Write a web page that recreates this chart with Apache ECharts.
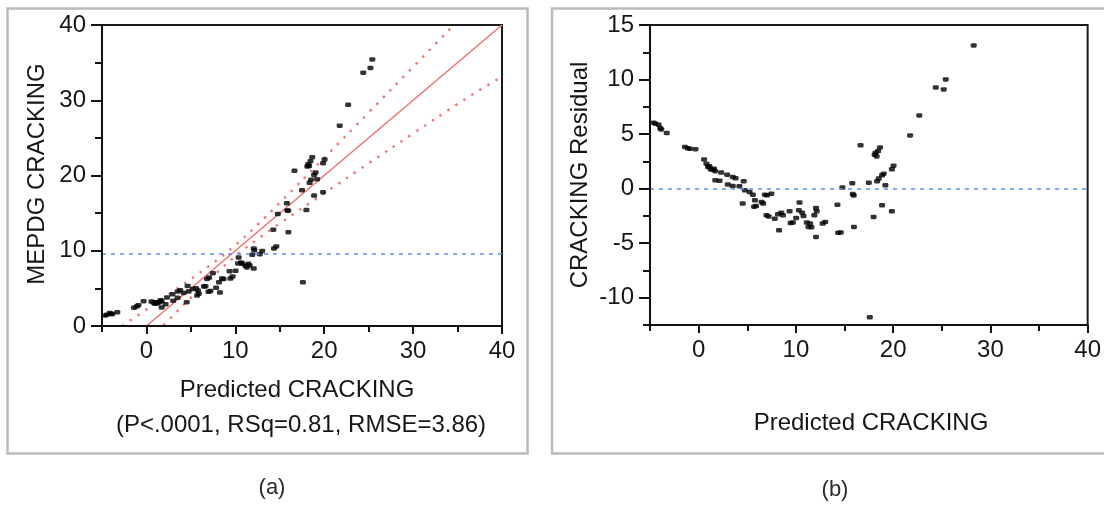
<!DOCTYPE html>
<html><head><meta charset="utf-8">
<script src="https://cdn.jsdelivr.net/npm/echarts@6.0.0/dist/echarts.min.js"></script>
<style>html,body{margin:0;padding:0;background:#fff;}#c{width:1104px;height:506px;}</style>
</head><body><div id="c"></div>
<script>
// ---- data ----
const predicted = [-4.63,-4.45,-4.12,-3.95,-3.85,-3.28,-1.41,-1.10,-0.90,-0.32,0.56,0.80,0.97,1.10,1.24,1.45,1.58,1.71,2.32,1.71,2.15,2.93,3.51,3.80,3.00,3.51,4.63,4.19,4.75,5.24,5.58,4.53,5.70,5.90,5.79,6.47,6.64,6.81,7.04,7.48,6.98,7.20,7.83,8.16,8.50,8.67,8.27,9.35,9.69,9.45,10.37,10.30,10.64,10.78,10.03,11.12,11.29,11.46,11.60,12.07,12.14,11.90,12.07,12.75,13.02,14.27,14.78,14.61,14.35,15.80,15.85,15.95,15.97,16.65,17.50,17.60,17.99,18.10,18.20,18.30,18.45,18.65,18.35,18.52,18.86,19.03,19.20,18.86,19.87,20.04,19.87,21.74,22.69,24.39,25.20,25.41,28.28];
const residual = [6.04,5.95,5.86,5.55,5.43,5.10,3.82,3.70,3.66,3.62,2.68,2.29,1.98,2.05,1.77,1.72,1.83,1.60,1.47,0.76,0.73,1.28,1.07,0.95,0.37,0.24,0.67,0.21,-0.15,-0.31,-0.56,-1.37,-1.65,-1.60,-1.07,-1.22,-1.37,-0.55,-0.61,-0.46,-2.44,-2.55,-2.75,-2.35,-2.20,-2.44,-3.82,-2.08,-3.11,-3.15,-1.28,-1.98,-2.20,-2.50,-2.69,-3.11,-3.51,-3.20,-3.55,-1.77,-2.08,-2.44,-4.43,-3.20,-3.05,-1.47,0.10,-4.03,-4.05,0.50,-0.50,-0.62,-3.51,3.97,0.55,-11.80,-2.59,3.10,3.30,2.95,3.45,3.78,0.67,0.92,1.22,1.37,0.31,-1.53,1.77,2.10,-2.08,4.88,6.71,9.28,9.09,10.01,13.13];
const mepdg = [1.41,1.50,1.74,1.60,1.58,1.82,2.41,2.60,2.76,3.30,3.24,3.09,2.95,3.15,3.01,3.17,3.41,3.31,3.79,2.47,2.88,4.21,4.58,4.75,3.37,3.75,5.30,4.40,4.60,4.93,5.02,3.16,4.05,4.30,4.72,5.25,5.27,6.26,6.43,7.02,4.54,4.65,5.08,5.81,6.30,6.23,4.45,7.27,6.58,6.30,9.09,8.32,8.44,8.28,7.34,8.01,7.78,8.26,8.05,10.30,10.06,9.46,7.64,9.55,9.97,12.80,14.88,10.58,10.30,16.30,15.35,15.33,12.46,20.62,18.05,5.80,15.40,21.20,21.50,21.25,21.90,22.43,19.02,19.44,20.08,20.40,19.51,17.33,21.64,22.14,17.79,26.62,29.40,33.67,34.29,35.42,41.41];
const meanMEPDG = 9.6;
const residualZero = 0;
const fitX = [0, 40];
const fitY = [0, 40];
const upperCIX = [-2.75, 0, 2.5, 5, 7.5, 10, 12.5, 15, 20, 25, 30, 34.5];
const upperCIY = [0, 2.19, 4.19, 6.24, 8.37, 10.75, 13.47, 16.38, 22.35, 28.38, 34.43, 39.9];
const lowerCIX = [1.9, 2.5, 5, 7.5, 10, 12.5, 15, 20, 25, 30, 35, 39.5];
const lowerCIY = [0.1, 0.81, 3.76, 6.63, 9.25, 11.53, 13.62, 17.65, 21.62, 25.57, 29.5, 32.8];
const xMajorTicks = [0, 10, 20, 30, 40];
const xMinorTicks = [-5, 5, 15, 25, 35];
const yLeftMajorTicks = [0, 10, 20, 30, 40];
const yLeftMinorTicks = [5, 15, 25, 35];
const yRightMajorTicks = [-10, -5, 0, 5, 10, 15];
const yRightMinorTicks = [-12.5, -7.5, -2.5, 2.5, 7.5, 12.5];
const xRange = [-5, 40];
const yLeftRange = [0, 40];
const yRightRange = [-12.5, 15];
const titleLeftY = 'MEPDG CRACKING';
const titleRightY = 'CRACKING Residual';
const titleX = 'Predicted CRACKING';
const statsText = '(P<.0001, RSq=0.81, RMSE=3.86)';
const captionA = '(a)';
const captionB = '(b)';

// ---- styles ----
const FONT = '"Liberation Sans", Arial, sans-serif';
const TXT = '#161616';
const RED = '#f07474';
const BLUE = '#5a8ef2';

const pairs = (xs, ys) => xs.map((x, i) => [x, ys[i]]);

function axis(dim, grid, range, ticks, len, showLabel, margin) {
  return {
    type: 'value', gridIndex: grid, min: range[0], max: range[1],
    position: dim === 'x' ? 'bottom' : 'left',
    splitLine: { show: false },
    axisLine: { show: showLabel, onZero: false, lineStyle: { color: '#111', width: 2 } },
    axisTick: { show: true, inside: false, length: len, customValues: ticks,
                lineStyle: { color: '#111', width: 2 } },
    axisLabel: { show: showLabel, customValues: ticks, margin: margin,
                 fontFamily: FONT, fontSize: 24, color: TXT },
    z: 5
  };
}

const chart = echarts.init(document.getElementById('c'), null, { renderer: 'canvas' });
const option = {
  animation: false,
  backgroundColor: '#fff',
  grid: [
    { left: 102, top: 25, width: 400, height: 301, show: true, borderColor: '#1a1a1a', borderWidth: 2, backgroundColor: 'transparent' },
    { left: 650, top: 25, width: 439, height: 300, show: true, borderColor: '#1a1a1a', borderWidth: 2, backgroundColor: 'transparent' }
  ],
  xAxis: [
    axis('x', 0, xRange, xMajorTicks, 8, true, 13),
    axis('x', 0, xRange, xMinorTicks, 6, false, 13),
    axis('x', 1, xRange, xMajorTicks, 8, true, 13),
    axis('x', 1, xRange, xMinorTicks, 6, false, 13)
  ],
  yAxis: [
    axis('y', 0, yLeftRange, yLeftMajorTicks, 11, true, 16),
    axis('y', 0, yLeftRange, yLeftMinorTicks, 7, false, 16),
    axis('y', 1, yRightRange, yRightMajorTicks, 11, true, 16),
    axis('y', 1, yRightRange, yRightMinorTicks, 7, false, 16)
  ],
  series: [
    { type: 'line', xAxisIndex: 0, yAxisIndex: 0, data: pairs(fitX, fitY), symbol: 'none',
      lineStyle: { color: RED, width: 1.6 }, clip: true, z: 2,
      markLine: { silent: true, symbol: 'none', label: { show: false },
        lineStyle: { color: BLUE, width: 1.6, type: [4, 5] },
        data: [{ yAxis: meanMEPDG }] } },
    { type: 'line', xAxisIndex: 0, yAxisIndex: 0, data: pairs(upperCIX, upperCIY), smooth: true, symbol: 'none',
      lineStyle: { color: RED, width: 2.4, type: [2.4, 7] }, clip: true, z: 2 },
    { type: 'line', xAxisIndex: 0, yAxisIndex: 0, data: pairs(lowerCIX, lowerCIY), smooth: true, symbol: 'none',
      lineStyle: { color: RED, width: 2.4, type: [2.4, 7] }, clip: true, z: 2 },
    { type: 'scatter', xAxisIndex: 0, yAxisIndex: 0, data: pairs(predicted, mepdg), symbol: 'roundRect',
      symbolSize: [6, 4.5], itemStyle: { color: '#000' }, clip: true, z: 4 },
    { type: 'line', xAxisIndex: 2, yAxisIndex: 2, data: [], symbol: 'none',
      markLine: { silent: true, symbol: 'none', label: { show: false },
        lineStyle: { color: BLUE, width: 1.6, type: [4, 5] },
        data: [{ yAxis: residualZero }] } },
    { type: 'scatter', xAxisIndex: 2, yAxisIndex: 2, data: pairs(predicted, residual), symbol: 'roundRect',
      symbolSize: [6, 4.5], itemStyle: { color: '#000' }, clip: true, z: 4 }
  ],
  graphic: [
    { type: 'rect', shape: { x: 7.5, y: 8.5, width: 520, height: 445 }, style: { fill: 'none', stroke: '#bbbbbb', lineWidth: 2.5 }, z: 0 },
    { type: 'rect', shape: { x: 552, y: 8.5, width: 600, height: 445 }, style: { fill: 'none', stroke: '#bbbbbb', lineWidth: 2.5 }, z: 0 },
    { type: 'text', x: 37, y: 174, rotation: Math.PI / 2, style: { text: titleLeftY, font: '24px ' + FONT, fill: TXT, textAlign: 'center', textVerticalAlign: 'middle' } },
    { type: 'text', x: 297, y: 390, style: { text: titleX, font: '24px ' + FONT, fill: TXT, textAlign: 'center', textVerticalAlign: 'middle' } },
    { type: 'text', x: 301, y: 425, style: { text: statsText, font: '24px ' + FONT, fill: TXT, textAlign: 'center', textVerticalAlign: 'middle' } },
    { type: 'text', x: 272, y: 488, style: { text: captionA, font: '22px ' + FONT, fill: '#2a2a2a', textAlign: 'center', textVerticalAlign: 'middle' } },
    { type: 'text', x: 580, y: 175, rotation: Math.PI / 2, style: { text: titleRightY, font: '24px ' + FONT, fill: TXT, textAlign: 'center', textVerticalAlign: 'middle' } },
    { type: 'text', x: 871, y: 423, style: { text: titleX, font: '24px ' + FONT, fill: TXT, textAlign: 'center', textVerticalAlign: 'middle' } },
    { type: 'text', x: 835, y: 490, style: { text: captionB, font: '22px ' + FONT, fill: '#2a2a2a', textAlign: 'center', textVerticalAlign: 'middle' } }
  ]
};
chart.setOption(option);
</script></body></html>
